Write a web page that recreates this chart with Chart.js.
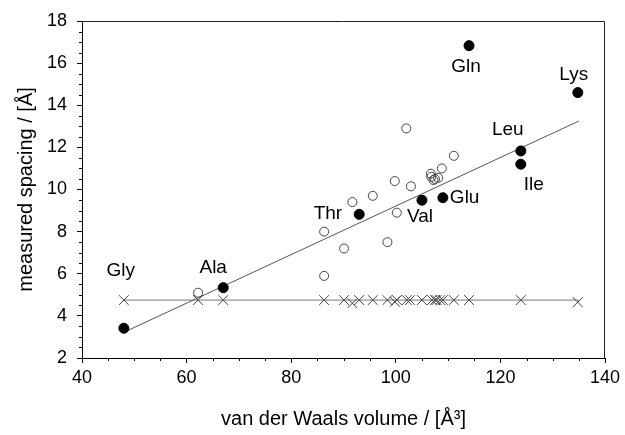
<!DOCTYPE html>
<html>
<head>
<meta charset="utf-8">
<script src="https://cdn.jsdelivr.net/npm/chart.js@4/dist/chart.umd.min.js"></script>
<style>
  body { margin: 0; background: #fff; }
</style>
</head>
<body>
<canvas id="myChart" width="625" height="435"></canvas>
<script>
// labelled amino acids (filled circles)
var filledNames = ['Gly', 'Ala', 'Thr', 'Val', 'Glu', 'Gln', 'Leu', 'Ile', 'Lys'];
var filledX = [48.0, 67.0, 93.0, 105.0, 109.0, 114.0, 123.9, 123.9, 134.8];
var filledY = [3.41, 5.34, 8.82, 9.49, 9.61, 16.83, 11.83, 11.2, 14.6];

// other points (open circles)
var openX = [62.2, 86.3, 86.3, 90.1, 91.7, 95.6, 98.4, 99.8, 100.2, 102.0, 102.9, 106.7, 106.8, 107.2, 107.5, 108.1, 108.8, 111.1];
var openY = [5.1, 8.0, 5.9, 7.2, 9.4, 9.7, 7.5, 10.4, 8.9, 12.9, 10.15, 10.75, 10.6, 10.45, 10.5, 10.55, 11.0, 11.6];

// second spacing (crosses)
var crossX = [48, 62.2, 67, 86.3, 90.1, 91.7, 93.0, 95.6, 98.4, 99.8, 100.2, 102.1, 102.7, 105.0, 106.9, 107.5, 107.8, 108.5, 109.0, 111.1, 114.0, 123.9, 134.8];
var crossY = [4.75, 4.75, 4.75, 4.75, 4.75, 4.6, 4.75, 4.75, 4.75, 4.67, 4.75, 4.75, 4.75, 4.75, 4.75, 4.75, 4.75, 4.75, 4.75, 4.75, 4.75, 4.75, 4.65];

// fitted line and mean line
var fitX = [48, 135];
var fitY = [3.22, 13.25];
var meanX = [48, 135];
var meanY = [4.75, 4.75];

// axis ticks
var xTicks = [40, 60, 80, 100, 120, 140];
var yTicks = [2, 4, 6, 8, 10, 12, 14, 16, 18];

function pts(xs, ys) {
    var out = [];
    for (var i in xs) {
        out.push({ x: xs[i], y: ys[i] });
    }
    return out;
}

var FONT = "'Liberation Sans', Arial, sans-serif";

// names next to the filled points
var labelOffsets = {
    Gly: [-3, -58, 'center'],
    Ala: [-10, -20, 'center'],
    Thr: [-17, -1, 'right'],
    Val: [-2, 17, 'center'],
    Glu: [7, 0, 'left'],
    Gln: [-3, 21, 'center'],
    Leu: [-13, -21, 'center'],
    Ile: [13, 21, 'center'],
    Lys: [-4, -18, 'center']
};

function majorColor(list) {
    return function (c) {
        return (c.tick && list.indexOf(c.tick.value) >= 0) ? '#000' : 'rgba(0,0,0,0)';
    };
}

var labelPlugin = {
    id: 'labels',
    afterDatasetsDraw: function (chart) {
        var ctx = chart.ctx;
        var xs = chart.scales.x, ys = chart.scales.y;
        var a = chart.chartArea;
        ctx.save();
        // minor ticks (shorter)
        ctx.strokeStyle = '#000';
        ctx.lineWidth = 1;
        ctx.beginPath();
        xs.ticks.forEach(function (t) {
            if (xTicks.indexOf(t.value) < 0) {
                var px = Math.round(xs.getPixelForValue(t.value)) + 0.5;
                ctx.moveTo(px, a.bottom);
                ctx.lineTo(px, a.bottom + 3);
            }
        });
        ys.ticks.forEach(function (t) {
            if (yTicks.indexOf(t.value) < 0) {
                var py = Math.round(ys.getPixelForValue(t.value)) + 0.5;
                ctx.moveTo(a.left, py);
                ctx.lineTo(a.left - 3, py);
            }
        });
        ctx.stroke();

        ctx.fillStyle = '#000';
        ctx.font = '19px ' + FONT;
        ctx.textBaseline = 'middle';
        for (var i in filledNames) {
            var o = labelOffsets[filledNames[i]];
            ctx.textAlign = o[2];
            ctx.fillText(filledNames[i], xs.getPixelForValue(filledX[i]) + o[0], ys.getPixelForValue(filledY[i]) + o[1]);
        }
        // frame: top and right
        ctx.strokeStyle = '#222';
        ctx.beginPath();
        ctx.moveTo(a.left, a.top + 0.5);
        ctx.lineTo(a.right - 0.5, a.top + 0.5);
        ctx.lineTo(a.right - 0.5, a.bottom);
        ctx.stroke();
        ctx.restore();
    }
};

new Chart("myChart", {
    type: 'scatter',
    data: {
        datasets: [{
            data: pts(filledX, filledY),
            pointStyle: 'circle',
            pointRadius: 5,
            backgroundColor: '#000',
            borderColor: '#000',
            borderWidth: 1
        }, {
            data: pts(openX, openY),
            pointStyle: 'circle',
            pointRadius: 4.5,
            backgroundColor: 'rgba(255,255,255,0)',
            borderColor: '#444',
            borderWidth: 1
        }, {
            data: pts(crossX, crossY),
            pointStyle: 'crossRot',
            pointRadius: 7,
            borderColor: '#444',
            borderWidth: 1
        }, {
            data: pts(fitX, fitY),
            showLine: true,
            pointRadius: 0,
            borderColor: '#555',
            borderWidth: 1
        }, {
            data: pts(meanX, meanY),
            showLine: true,
            pointRadius: 0,
            borderColor: '#777',
            borderWidth: 1
        }]
    },
    options: {
        responsive: false,
        animation: false,
        layout: { padding: { top: 21, right: 20, left: 0, bottom: 0 } },
        plugins: {
            legend: { display: false },
            tooltip: { enabled: false }
        },
        scales: {
            x: {
                min: 40,
                max: 140,
                afterFit: function (s) { s.height = 77; },
                ticks: {
                    stepSize: 5,
                    autoSkip: false,
                    maxRotation: 0,
                    padding: 4,
                    color: '#000',
                    font: { family: FONT, size: 18 },
                    callback: function (v) { return xTicks.indexOf(v) >= 0 ? v : ''; }
                },
                grid: { drawOnChartArea: false, tickLength: 5, tickColor: majorColor(xTicks) },
                border: { color: '#000', width: 1 },
                title: {
                    display: true,
                    text: 'van der Waals volume / [Å³]',
                    color: '#000',
                    font: { family: FONT, size: 20 },
                    padding: { top: 0, bottom: 4 }
                }
            },
            y: {
                min: 2,
                max: 18,
                afterFit: function (s) { s.width = 82; },
                ticks: {
                    stepSize: 0.5,
                    autoSkip: false,
                    padding: 10,
                    color: '#000',
                    font: { family: FONT, size: 18 },
                    callback: function (v) { return yTicks.indexOf(v) >= 0 ? v : ''; }
                },
                grid: { drawOnChartArea: false, tickLength: 5, tickColor: majorColor(yTicks) },
                border: { color: '#000', width: 1 },
                title: {
                    display: true,
                    text: 'measured spacing / [Å]',
                    color: '#000',
                    font: { family: FONT, size: 20 },
                    padding: { top: 14, bottom: 0 }
                }
            }
        }
    },
    plugins: [labelPlugin]
});
</script>
</body>
</html>
